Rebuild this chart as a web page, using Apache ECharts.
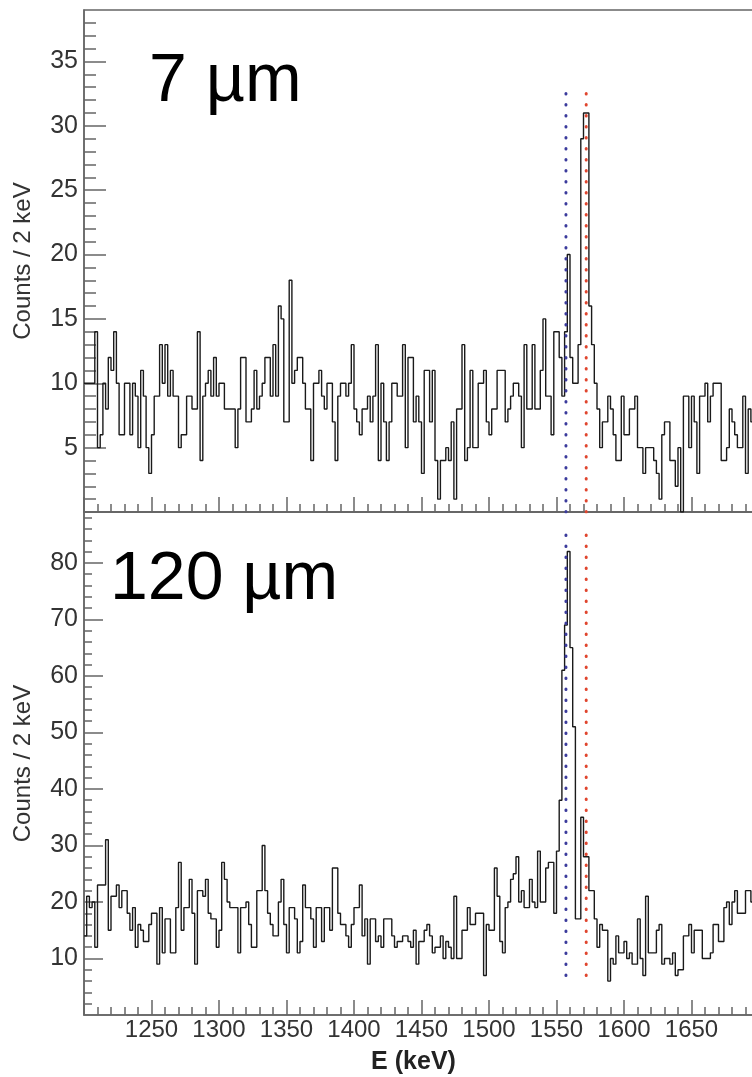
<!DOCTYPE html>
<html><head><meta charset="utf-8">
<script src="https://cdn.jsdelivr.net/npm/echarts@6/dist/echarts.min.js"></script>
<style>html,body{margin:0;padding:0;background:#fff}#c{width:752px;height:1077px}</style>
</head><body><div id="c"></div>
<script>
// ---- data ----
const binStart = 1200;      // keV, left edge of first bin
const binWidth = 2;         // keV per bin
const counts7um = [
 10,10,10,10,14,5,6,10,8,12,
 11,14,10,6,6,10,10,6,10,9,
 5,11,9,5,3,6,9,9,13,10,
 13,9,11,9,9,5,6,6,9,9,
 8,8,14,4,9,10,11,9,12,9,
 10,10,8,8,8,8,5,8,12,12,
 7,7,8,11,8,9,10,12,12,9,
 13,9,16,15,7,7,18,10,11,12,
 12,10,8,8,4,10,10,11,9,8,
 10,10,7,4,9,10,10,9,10,13,
 8,7,6,8,8,9,7,9,13,4,
 10,7,4,7,10,10,9,9,13,5,
 12,12,7,9,7,3,11,11,7,11,
 4,1,4,4,5,4,7,1,8,8,
 13,4,5,11,5,5,10,10,11,7,
 6,8,8,11,11,11,7,8,9,10,
 10,9,5,13,8,8,13,8,8,11,
 15,9,9,6,14,14,12,9,14,20,
 12,10,10,13,29,31,31,16,13,10,
 8,5,7,7,9,8,6,4,4,9,
 6,6,8,8,9,5,5,3,5,5,
 5,4,3,1,6,7,7,4,4,2,
 5,0,9,9,5,9,7,3,9,9,
 10,7,9,10,10,10,4,4,5,8,
 7,6,5,5,9,3,8,7,8,6
];
const counts120um = [
 14,21,19,20,12,23,23,23,31,15,
 21,21,23,19,22,22,18,15,19,12,
 16,15,13,13,16,18,18,9,19,11,
 17,17,11,11,19,27,15,19,19,24,
 18,9,22,22,21,24,18,17,17,12,
 15,27,24,20,19,19,19,11,19,19,
 20,16,12,12,22,22,30,22,18,16,
 14,14,20,24,16,11,19,19,17,11,
 13,23,19,19,17,12,19,19,13,19,
 19,15,26,26,18,16,16,14,12,16,
 19,19,23,14,17,9,17,17,13,14,
 12,17,17,17,14,12,13,13,14,14,
 13,12,15,9,13,13,15,16,14,11,
 12,12,14,10,13,12,10,21,10,10,
 15,15,19,16,16,18,18,18,7,16,
 15,15,26,21,13,11,19,20,24,25,
 28,20,22,19,19,24,20,19,29,20,
 20,26,27,27,18,29,38,61,69,82,
 65,51,17,17,35,28,28,22,22,17,
 12,16,15,15,6,10,9,14,11,11,
 13,10,11,9,9,17,10,7,21,11,
 11,11,15,16,9,10,10,9,11,7,
 8,8,14,14,16,11,15,15,15,10,
 10,10,11,16,16,13,13,19,20,16,
 20,22,18,18,18,22,22,20,18,20
];
const panelLabels = ['7 µm', '120 µm'];
const xRange = [1200, 1700];
const topYRange = [0, 39];
const bottomYRange = [0, 89];
const topMajorTicks = [5, 10, 15, 20, 25, 30, 35];
const topMinorTicks = [1,2,3,4,6,7,8,9,11,12,13,14,16,17,18,19,21,22,23,24,26,27,28,29,31,32,33,34,36,37,38];
const bottomMajorTicks = [10, 20, 30, 40, 50, 60, 70, 80];
const bottomMinorTicks = [2,4,6,8,12,14,16,18,22,24,26,28,32,34,36,38,42,44,46,48,52,54,56,58,62,64,66,68,72,74,76,78,82,84,86,88];
const blueLineE = 1557;
const redLineE = 1572;
const topMarkerSpan = [0, 33];
const bottomMarkerSpan = [7, 86.5];

// ---- helpers ----
function toSteps(arr) {
  const pts = arr.map((v, i) => [binStart + i * binWidth, v]);
  pts.push([binStart + arr.length * binWidth, arr[arr.length - 1]]);
  return pts;
}
const FONT = '"Liberation Sans", Arial, Helvetica, sans-serif';
const axisCol = '#666';
const axisLine = { show: true, lineStyle: { color: axisCol, width: 1.5 } };

function xAxisFor(grid, showLabels) {
  return {
    gridIndex: grid, type: 'value', min: xRange[0], max: xRange[1], interval: 50,
    axisLine: axisLine,
    axisTick: { show: true, inside: true, length: 15, lineStyle: { color: axisCol, width: 1.5 } },
    minorTick: { show: true, splitNumber: 5, length: 8, lineStyle: { color: axisCol, width: 1.5 } },
    splitLine: { show: false }, minorSplitLine: { show: false },
    axisLabel: { show: showLabels, showMinLabel: false, showMaxLabel: false, fontSize: 24,
      color: '#333', fontFamily: FONT, margin: 3, formatter: v => String(v) },
    name: showLabels ? 'E (keV)' : '', nameLocation: 'middle', nameGap: 35,
    nameTextStyle: { fontSize: 25, fontWeight: 'bold', color: '#222', fontFamily: FONT, padding: [0, 16, 0, 0] }
  };
}
function yAxesFor(grid, range, major, minor, majLen, minLen) {
  return [{
    gridIndex: grid, type: 'value', min: range[0], max: range[1], position: 'left',
    axisLine: axisLine,
    axisTick: { show: true, inside: true, length: majLen, customValues: major, lineStyle: { color: axisCol, width: 1.5 } },
    axisLabel: { customValues: major, fontSize: 25, color: '#333', fontFamily: FONT, margin: 6 },
    splitLine: { show: false },
    name: 'Counts / 2 keV', nameLocation: 'middle', nameGap: 49,
    nameTextStyle: { fontSize: 24, color: '#333', fontFamily: FONT }
  }, {
    gridIndex: grid, type: 'value', min: range[0], max: range[1], position: 'left', offset: 0,
    axisLine: { show: false },
    axisTick: { show: true, inside: true, length: minLen, customValues: minor, lineStyle: { color: axisCol, width: 1.5 } },
    axisLabel: { show: false }, splitLine: { show: false }
  }];
}
function histSeries(xi, yi, data) {
  return { type: 'line', xAxisIndex: xi, yAxisIndex: yi, step: 'end', data: toSteps(data),
    symbol: 'none', silent: true, lineStyle: { color: '#1a1a1a', width: 1.4 }, z: 3 };
}
function dotted(xi, yi, e, span, color) {
  return { type: 'line', xAxisIndex: xi, yAxisIndex: yi, data: [[e, span[0]], [e, span[1]]],
    symbol: 'none', silent: true, z: 4,
    lineStyle: { color: color, width: 3, type: [0.5, 10.5], cap: 'round' } };
}

const chart = echarts.init(document.getElementById('c'));
const yTop = yAxesFor(0, topYRange, topMajorTicks, topMinorTicks, 22, 12);
const yBot = yAxesFor(1, bottomYRange, bottomMajorTicks, bottomMinorTicks, 19, 8);
chart.setOption({
  animation: false,
  backgroundColor: '#fff',
  grid: [
    { left: 84, top: 10, width: 675, height: 502, show: true, borderColor: axisCol, borderWidth: 1.5,
      backgroundColor: 'transparent', containLabel: false, outerBoundsMode: 'none' },
    { left: 84, top: 512, width: 675, height: 503, show: true, borderColor: axisCol, borderWidth: 1.5,
      backgroundColor: 'transparent', containLabel: false, outerBoundsMode: 'none' }
  ],
  xAxis: [xAxisFor(0, false), xAxisFor(1, true)],
  yAxis: [yTop[0], yTop[1], yBot[0], yBot[1]],
  series: [
    histSeries(0, 0, counts7um),
    histSeries(1, 2, counts120um),
    dotted(0, 0, blueLineE, topMarkerSpan, '#3b3b9c'),
    dotted(0, 0, redLineE, topMarkerSpan, '#e0452e'),
    dotted(1, 2, blueLineE, bottomMarkerSpan, '#3b3b9c'),
    dotted(1, 2, redLineE, bottomMarkerSpan, '#e0452e')
  ],
  graphic: [
    { type: 'text', left: 149, top: 48, silent: true,
      style: { text: panelLabels[0], font: '68px ' + FONT, fill: '#000' } },
    { type: 'text', left: 110, top: 546, silent: true,
      style: { text: panelLabels[1], font: '68px ' + FONT, fill: '#000' } }
  ]
});
</script>
</body></html>
